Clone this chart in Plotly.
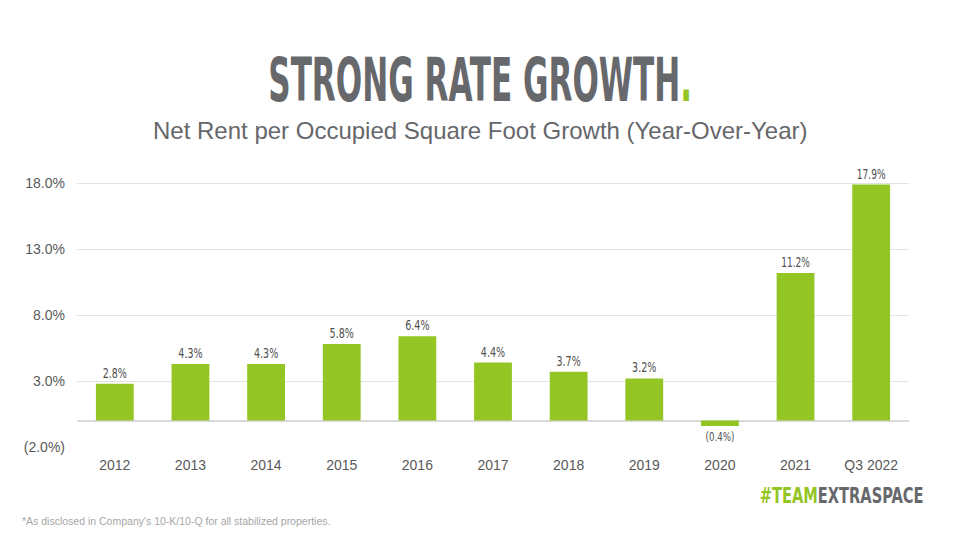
import plotly.graph_objects as go

categories = ["2012", "2013", "2014", "2015", "2016", "2017", "2018", "2019", "2020", "2021", "Q3 2022"]
growth = [2.8, 4.3, 4.3, 5.8, 6.4, 4.4, 3.7, 3.2, -0.4, 11.2, 17.9]
tick_values = [-2, 3, 8, 13, 18]


def fmt(v):
    return f"({abs(v):.1f}%)" if v < 0 else f"{v:.1f}%"


labels = [fmt(v) for v in growth]
tick_text = [fmt(v) for v in tick_values]

GREEN = "#93C524"
GRAY = "#67686C"
COND = "DejaVu Sans Condensed, Arial Narrow, sans-serif"
SANS = "Liberation Sans, Arial, sans-serif"

L, R, T, B = 77, 51, 170, 93
W, H = 960, 540
plot_h = H - T - B
plot_w = W - L - R


def ypix(p):
    return (H - B - p) / plot_h


def xpix(p):
    return (p - L) / plot_w


fig = go.Figure()
fig.add_trace(go.Bar(
    x=categories, y=growth, marker=dict(color=GREEN, line=dict(width=0)),
    text=labels, textposition="outside", cliponaxis=False,
    textfont=dict(family=COND, size=14, color="#4F4F4F"),
    width=0.5,
))

fig.update_layout(
    width=W, height=H,
    paper_bgcolor="white", plot_bgcolor="white",
    margin=dict(l=L, r=R, t=T, b=B),
    showlegend=False,
    font=dict(family=SANS, color="#595959"),
    xaxis=dict(showgrid=False, showline=False, ticks="", ticklabelstandoff=8,
               tickfont=dict(size=14, color="#595959")),
    yaxis=dict(range=[-2, 19], tickvals=tick_values, ticktext=tick_text,
               showgrid=True, gridcolor="#E3E3E3", gridwidth=1,
               zeroline=True, zerolinecolor="#D9D9D9", zerolinewidth=1.5,
               tickfont=dict(size=14, color="#595959"), ticklabelstandoff=11, ticks=""),
)

fig.add_annotation(xref="paper", yref="paper", x=xpix(480), y=ypix(80),
                   xanchor="center", yanchor="middle", showarrow=False,
                   text="<b>STRONG RATE GROWTH</b><b><span style='color:%s'>.</span></b>" % GREEN,
                   font=dict(family=COND, size=60, color=GRAY))
fig.add_annotation(xref="paper", yref="paper", x=xpix(480), y=ypix(130),
                   xanchor="center", yanchor="middle", showarrow=False,
                   text="Net Rent per Occupied Square Foot Growth (Year-Over-Year)",
                   font=dict(family=SANS, size=24, color="#66676B"))
fig.add_annotation(xref="paper", yref="paper", x=xpix(926), y=ypix(495),
                   xanchor="right", yanchor="middle", showarrow=False,
                   text="<b><span style='color:%s'>#TEAM</span>EXTRASPACE</b>" % GREEN,
                   font=dict(family=COND, size=22, color=GRAY))
fig.add_annotation(xref="paper", yref="paper", x=xpix(20), y=ypix(521),
                   xanchor="left", yanchor="middle", showarrow=False,
                   text="*As disclosed in Company's 10-K/10-Q for all stabilized properties.",
                   font=dict(family=SANS, size=10.5, color="#A6A6A6"))

# Horizontally condense the headline-style texts to mimic a condensed display face
post = """
(function(){
  function squeeze(el, target, anchor){
    var b = el.getBBox();
    var s = target / b.width;
    var cx = b.x + b.width/2;
    if (anchor === 'right') cx = b.x + b.width;
    el.setAttribute('transform', 'translate(' + cx + ',0) scale(' + s + ',1) translate(' + (-cx) + ',0)');
  }
  var gd = document.getElementsByClassName('plotly-graph-div')[0];
  function run(){
    var ann = gd.querySelectorAll('.annotation-text');
    if (ann.length > 0) squeeze(ann[0], 424);
    if (ann.length > 2) squeeze(ann[2], 164, 'right');
    gd.querySelectorAll('.bartext').forEach(function(t){
      var b = t.getBBox(); var cx = b.x + b.width/2;
      var prev = t.getAttribute('transform') || '';
      t.setAttribute('transform', prev + ' translate(' + cx + ',0) scale(0.76,1) translate(' + (-cx) + ',0)');
    });
  }
  setTimeout(run, 50);
})();
"""

fig.write_html("out.html", post_script=post)
